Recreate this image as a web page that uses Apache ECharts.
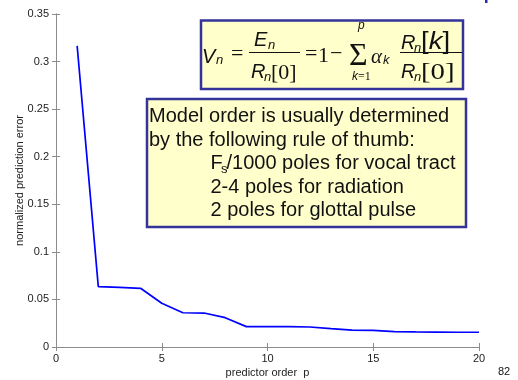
<!DOCTYPE html>
<html><head><meta charset="utf-8">
<script src="https://cdn.jsdelivr.net/npm/echarts@6/dist/echarts.min.js"></script>
<style>html,body{margin:0;padding:0;background:#fff}#c{width:518px;height:380px}</style>
</head><body><div id="c"></div>
<script>
const predictorOrder = [1,2,3,4,5,6,7,8,9,10,11,12,13,14,15,16,17,18,19,20];
const predictionError = [0.3165,0.0634,0.0626,0.0617,0.0460,0.0360,0.0357,0.0308,0.0214,0.0214,0.0214,0.0210,0.0193,0.0178,0.0175,0.0162,0.0158,0.0157,0.0155,0.0155];
const xTickValues = [0,5,10,15,20];
const yTickValues = [0,0.05,0.1,0.15,0.2,0.25,0.3,0.35];
const xAxisTitle = 'predictor order  p';
const yAxisTitle = 'normalized prediction error';
const ruleLines = ['Model order is usually determined','by the following rule of thumb:'];
const ruleItems = ['2-4 poles for radiation','2 poles for glottal pulse'];

const SANS = 'Liberation Sans, Arial, sans-serif';
const SERIF = 'Liberation Serif, Times New Roman, serif';
const INK = '#111';

function t(text, x, y, size, opts) {
  opts = opts || {};
  const el = {type:'text', x:x, y:y, z:20, style:{text:text, fill:INK, fontSize:size,
    fontFamily: opts.serif ? SERIF : SANS, fontStyle: opts.italic ? 'italic' : 'normal',
    align: opts.align || 'left', verticalAlign:'middle'}};
  if (opts.scaleX) { el.scaleX = opts.scaleX; }
  return el;
}

const gray = '#8c8c8c';
const chart = echarts.init(document.getElementById('c'));
const axisCommon = {
  axisLine:{show:true, lineStyle:{color:gray, width:1}},
  axisTick:{show:true, inside:true, length:4, lineStyle:{color:gray}},
  splitLine:{show:false}
};

const graphics = [
  // formula box
  {type:'rect', z:10, shape:{x:201, y:20.5, width:262, height:68.5}, style:{fill:'#FFFFCC', stroke:'#333399', lineWidth:2.5}},
  t('V', 202, 57, 20, {italic:true}),
  t('n', 216, 60.5, 13, {italic:true}),
  t('=', 231, 54.7, 22, {serif:true}),
  t('E', 254, 40.5, 20, {italic:true}),
  t('n', 268, 45, 13, {italic:true}),
  {type:'line', z:20, shape:{x1:249, y1:52.5, x2:300, y2:52.5}, style:{stroke:INK, lineWidth:1.2}},
  t('R', 251, 72, 20, {italic:true}),
  t('n', 264, 77, 13, {italic:true}),
  t('[0]', 271, 73, 22, {serif:true}),
  t('=', 305, 54.7, 22, {serif:true}),
  t('1', 318, 56, 22, {serif:true}),
  t('\u2212', 330, 54.7, 22, {serif:true}),
  t('\u03A3', 349, 56.3, 32, {serif:true}),
  t('p', 358, 25.5, 12, {italic:true}),
  {type:'text', x:352, y:77, z:20, style:{text:'{i|k}{r|=1}', fill:INK, align:'left', verticalAlign:'middle',
    rich:{i:{fontSize:12, fontFamily:SANS, fontStyle:'italic', fill:INK}, r:{fontSize:12, fontFamily:SERIF, fill:INK}}}},
  t('\u03B1', 371, 57, 21, {serif:true, italic:true}),
  t('k', 383, 60.5, 13, {italic:true}),
  t('R', 401, 43.5, 20, {italic:true}),
  t('n', 414, 48, 13, {italic:true}),
  {type:'text', x:421, y:43, z:20, scaleX:1.2, style:{text:'{b|[}{i|k}{b|]}', fill:INK, align:'left', verticalAlign:'middle',
    rich:{b:{fontSize:23, fontFamily:SANS, fill:INK}, i:{fontSize:23, fontFamily:SANS, fontStyle:'italic', fill:INK}}}},
  {type:'line', z:20, shape:{x1:400, y1:52.5, x2:462, y2:52.5}, style:{stroke:INK, lineWidth:1.2}},
  t('R', 401, 72, 20, {italic:true}),
  t('n', 414, 77, 13, {italic:true}),
  t('[0]', 421, 73, 24, {serif:true, scaleX:1.2}),
  // rule box
  {type:'rect', z:10, shape:{x:147, y:99, width:319, height:128}, style:{fill:'#FFFFCC', stroke:'#333399', lineWidth:2.5}},
  t(ruleLines[0], 149, 116, 20),
  t(ruleLines[1], 149, 140, 20),
  t('F', 210.5, 163.5, 20),
  t('s', 221, 169, 13),
  t('/1000 poles for vocal tract', 226.5, 163.5, 20),
  t(ruleItems[0], 210.5, 187, 20),
  t(ruleItems[1], 210.5, 210.5, 20),
  // page number and title fragment
  t('82', 498, 372, 11),
  {type:'rect', z:10, shape:{x:485, y:0, width:2.5, height:3}, style:{fill:'#2a2aa8'}}
];

chart.setOption({
  animation:false,
  backgroundColor:'#fff',
  grid:{left:56, right:39, top:14, bottom:33, containLabel:false, outerBoundsMode:'none'},
  xAxis:[
    Object.assign({type:'value', position:'bottom', min:0, max:20, interval:5,
      axisLabel:{color:'#222', fontSize:11, fontFamily:SANS, margin:6},
      name:xAxisTitle, nameLocation:'middle', nameGap:20, nameMoveOverlap:false,
      nameTextStyle:{color:'#222', fontSize:11, fontFamily:SANS}}, axisCommon),
    Object.assign({type:'value', position:'top', min:0, max:20, interval:5, axisLabel:{show:false}}, axisCommon)
  ],
  yAxis:[
    Object.assign({type:'value', position:'left', min:0, max:0.35, interval:0.05,
      axisLabel:{color:'#222', fontSize:11, fontFamily:SANS, margin:7,
        formatter: v => { const m = yTickValues.find(tv => Math.abs(tv - v) < 1e-9); return String(m === undefined ? v : m); }},
      name:yAxisTitle, nameLocation:'middle', nameGap:31, nameRotate:90, nameMoveOverlap:false,
      nameTextStyle:{color:'#222', fontSize:11, fontFamily:SANS}}, axisCommon),
    Object.assign({type:'value', position:'right', min:0, max:0.35, interval:0.05, axisLabel:{show:false}}, axisCommon)
  ],
  series:[{
    type:'line', xAxisIndex:0, yAxisIndex:0,
    data: predictorOrder.map((p,i) => [p, predictionError[i]]),
    showSymbol:false, symbol:'none',
    lineStyle:{color:'#0000ff', width:1.7},
    z:2
  }],
  graphic: graphics
});
</script>
</body></html>
